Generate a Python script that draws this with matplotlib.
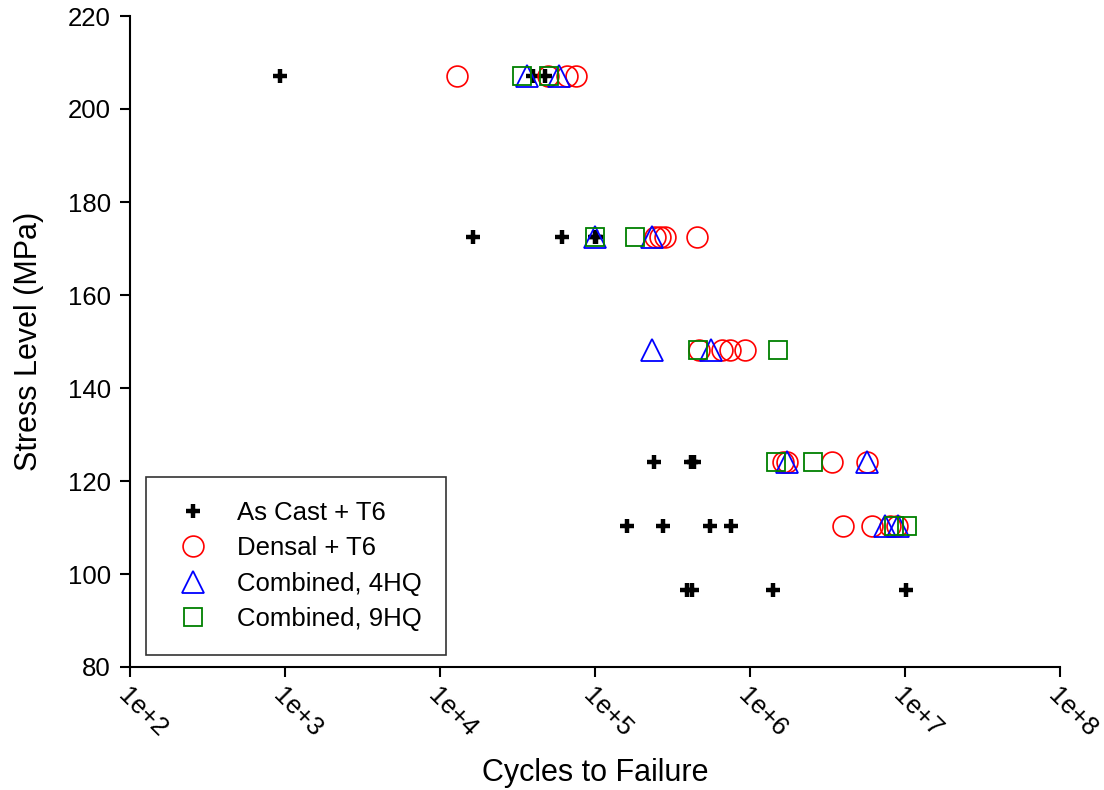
import matplotlib
matplotlib.use("Agg")
import matplotlib.pyplot as plt
import matplotlib.transforms as mtransforms
import numpy as np

plt.rcParams['font.family'] = ['Liberation Sans', 'DejaVu Sans']

# Stress levels (MPa)
S1, S2, S3, S4, S5, S6 = 207.0, 172.4, 148.2, 124.1, 110.3, 96.5

# As Cast + T6
ascast_cycles = [929, 39800, 47500,
                 16400, 61000, 100000, 101000,
                 240000, 414000, 435000,
                 161000, 275000, 552000, 754000,
                 391000, 421000, 1.41e6, 1.01e7]
ascast_stress = [S1, S1, S1,
                 S2, S2, S2, S2,
                 S4, S4, S4,
                 S5, S5, S5, S5,
                 S6, S6, S6, S6]

# Densal + T6
densal_cycles = [12900, 49700, 65600, 75400,
                 244000, 262000, 283000, 453000,
                 471000, 656000, 743000, 929000,
                 1.64e6, 1.73e6, 3.38e6, 5.66e6,
                 3.98e6, 6.12e6, 8.0e6, 8.83e6]
densal_stress = [S1, S1, S1, S1,
                 S2, S2, S2, S2,
                 S3, S3, S3, S3,
                 S4, S4, S4, S4,
                 S5, S5, S5, S5]

# Combined, 4HQ
hq4_cycles = [36400, 58600,
              100000, 234000,
              232000, 560000,
              1.73e6, 5.66e6,
              7.43e6, 9.06e6]
hq4_stress = [S1, S1,
              S2, S2,
              S3, S3,
              S4, S4,
              S5, S5]

# Combined, 9HQ
hq9_cycles = [33650, 50400,
              100000, 181000,
              464000, 1.52e6,
              1.47e6, 2.54e6,
              8.49e6, 1.026e7]
hq9_stress = [S1, S1,
              S2, S2,
              S3, S3,
              S4, S4,
              S5, S5]

xticks = [1e2, 1e3, 1e4, 1e5, 1e6, 1e7, 1e8]
xticklabels = ['1e+2', '1e+3', '1e+4', '1e+5', '1e+6', '1e+7', '1e+8']
yticks = [80, 100, 120, 140, 160, 180, 200, 220]

fig = plt.figure(figsize=(11.04, 7.90), dpi=100)
ax = fig.add_axes([130/1104, 1-667/790, 930/1104, 651/790])

ax.plot(ascast_cycles, ascast_stress, linestyle='none', marker='+',
        color='black', markersize=10, markeredgewidth=3.2, label='As Cast + T6')
ax.plot(densal_cycles, densal_stress, linestyle='none', marker='o',
        markerfacecolor='none', markeredgecolor='red', markersize=15,
        markeredgewidth=1.2, label='Densal + T6')
ax.plot(hq4_cycles, hq4_stress, linestyle='none', marker='^',
        markerfacecolor='none', markeredgecolor='blue', markersize=16,
        markeredgewidth=1.3, label='Combined, 4HQ')
ax.plot(hq9_cycles, hq9_stress, linestyle='none', marker='s',
        markerfacecolor='none', markeredgecolor='green', markersize=13,
        markeredgewidth=1.3, label='Combined, 9HQ')

ax.set_xscale('log')
ax.set_xlim(1e2, 1e8)
ax.set_ylim(80, 220)
ax.set_xticks(xticks)
ax.set_xticklabels(xticklabels, rotation=-45, ha='left', va='top',
                   rotation_mode='anchor', fontsize=18.5)
offset = mtransforms.ScaledTranslation(0.05, 0.0, fig.dpi_scale_trans)
for lbl in ax.get_xticklabels():
    lbl.set_transform(lbl.get_transform() + offset)
ax.xaxis.set_minor_locator(matplotlib.ticker.NullLocator())
ax.set_yticks(yticks)
ax.tick_params(axis='y', labelsize=18.5, pad=6.5)
ax.tick_params(axis='x', pad=5)
ax.tick_params(axis='both', direction='out', length=7.2, width=1.5, color='black')

ax.spines['top'].set_visible(False)
ax.spines['right'].set_visible(False)
ax.spines['left'].set_linewidth(1.5)
ax.spines['bottom'].set_linewidth(1.5)

ax.set_xlabel('Cycles to Failure', fontsize=22)
ax.set_ylabel('Stress Level (MPa)', fontsize=22)
ax.xaxis.set_label_coords(0.5, (667-758)/651)
ax.yaxis.set_label_coords((44-130)/930, 0.5)

leg = ax.legend(loc='lower left', bbox_to_anchor=(0.017, 0.018),
                fontsize=18.5, frameon=True, fancybox=False, borderpad=0.95,
                labelspacing=0.44, handlelength=1.76, handletextpad=0.84,
                borderaxespad=0.0)
leg.get_frame().set_edgecolor('black')
leg.get_frame().set_linewidth(1.2)

fig.savefig('out.png', dpi=100)
